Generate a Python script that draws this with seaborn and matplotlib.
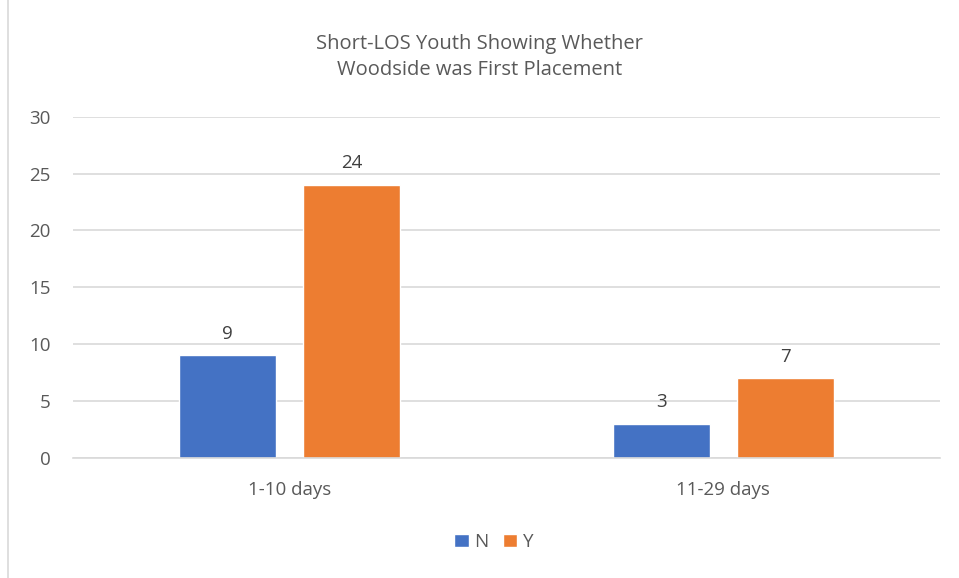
import matplotlib
matplotlib.use("Agg")
import matplotlib.pyplot as plt
import seaborn as sns
import pandas as pd
from matplotlib.patches import Rectangle

categories = ["1-10 days", "11-29 days"]
series_names = ["N", "Y"]
values_N = [9, 3]
values_Y = [24, 7]
yticks = [0, 5, 10, 15, 20, 25, 30]
title = "Short-LOS Youth Showing Whether\nWoodside was First Placement"

df = pd.DataFrame({
    "cat": categories * 2,
    "series": [series_names[0]] * len(categories) + [series_names[1]] * len(categories),
    "val": values_N + values_Y,
})

sns.set_theme(style="white")
plt.rcParams["font.family"] = ["Open Sans", "DejaVu Sans"]

fig = plt.figure(figsize=(9.59, 5.78), dpi=100)
ax = fig.add_axes([0.0761, 0.2081, 0.9041, 0.5899])

colors = {"N": "#4472C4", "Y": "#ED7D31"}
sns.barplot(data=df, x="cat", y="val", hue="series", hue_order=series_names,
            order=categories, palette=colors, width=0.573, gap=0.217,
            saturation=1, ax=ax, legend=True)

fs = 13.5
ax.set_xlim(-0.5, 1.5)
ax.set_ylim(0, 30)
ax.set_yticks(yticks)
ax.set_yticklabels([str(t) for t in yticks])
ax.yaxis.grid(True, color="#D9D9D9", linewidth=1.2)
ax.set_axisbelow(True)
for s in ["top", "right", "left"]:
    ax.spines[s].set_visible(False)
ax.spines["bottom"].set_color("#D9D9D9")
ax.spines["bottom"].set_linewidth(1.2)
ax.tick_params(axis="both", length=0, labelsize=fs, colors="#595959")
ax.tick_params(axis="y", pad=16)
ax.tick_params(axis="x", pad=17)
ax.set_xlabel("")
ax.set_ylabel("")

for cont in ax.containers:
    ax.bar_label(cont, fmt="%d", padding=9, fontsize=fs, color="#404040")

h, l = ax.get_legend_handles_labels()
ax.get_legend().remove()
fig.legend(h, l, loc="center", bbox_to_anchor=(494 / 959, 1 - 542 / 578), ncol=2,
           frameon=False, fontsize=fs, labelcolor="#595959",
           handlelength=0.75, handleheight=0.75, handletextpad=0.3, columnspacing=0.8)

fig.text(0.5, 1 - 57 / 578, title, ha="center", va="center", fontsize=14.5,
         color="#595959", linespacing=1.45)

fig.patches.append(Rectangle((8 / 959, -0.01), 2, 2, transform=fig.transFigure,
                             fill=False, edgecolor="#D9D9D9", linewidth=1.2))

fig.savefig("out.png", dpi=100)
